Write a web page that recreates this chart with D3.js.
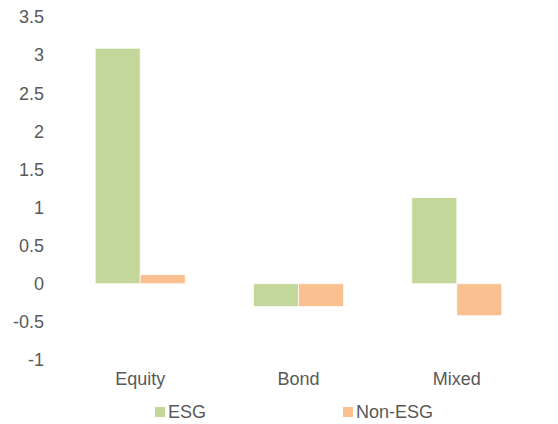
<!DOCTYPE html>
<html>
<head>
<meta charset="utf-8">
<script src="https://cdn.jsdelivr.net/npm/d3@7"></script>
<style>
  body { margin: 0; background: #fff; }
  text { font-family: "Liberation Sans", Arial, sans-serif; fill: #595959; }
</style>
</head>
<body>
<svg id="chart"></svg>
<script>
const categories = ['Equity', 'Bond', 'Mixed'];
const seriesNames = ['ESG', 'Non-ESG'];
const esgValues = [3.09, -0.30, 1.13];
const nonEsgValues = [0.12, -0.30, -0.42];
const yTicks = [-1, -0.5, 0, 0.5, 1, 1.5, 2, 2.5, 3, 3.5];

const width = 558, height = 424;
const colors = {ESG: '#C4D79B', 'Non-ESG': '#FAC090'};

const svg = d3.select('#chart').attr('width', width).attr('height', height);

const y = d3.scaleLinear().domain([-1, 3.5]).range([360, 17]);
const x = d3.scaleBand().domain(categories).range([61, 536]);
const inner = d3.scaleBand().domain(seriesNames).range([0, 90]);
const offset = (x.bandwidth() - 90) / 2;

const data = categories.map((c, i) => ({
    cat: c,
    vals: [{k: 'ESG', v: esgValues[i]}, {k: 'Non-ESG', v: nonEsgValues[i]}]
}));

// y axis labels only, no axis line or grid
svg.append('g').selectAll('text')
    .data(yTicks).enter().append('text')
    .attr('x', 44)
    .attr('y', d => y(d))
    .attr('dy', '0.35em')
    .attr('text-anchor', 'end')
    .style('font-size', '18px')
    .text(d => d);

const groups = svg.selectAll('g.cat')
    .data(data).enter().append('g')
    .attr('class', 'cat')
    .attr('transform', d => `translate(${x(d.cat) + offset},0)`);

groups.selectAll('rect')
    .data(d => d.vals).enter().append('rect')
    .attr('x', d => inner(d.k))
    .attr('width', inner.bandwidth())
    .attr('y', d => y(Math.max(0, d.v)))
    .attr('height', d => Math.abs(y(d.v) - y(0)))
    .attr('fill', d => colors[d.k])
    .attr('stroke', '#fff')
    .attr('stroke-width', 0.7);

// category labels
svg.append('g').selectAll('text')
    .data(categories).enter().append('text')
    .attr('x', d => x(d) + x.bandwidth() / 2)
    .attr('y', 385)
    .attr('text-anchor', 'middle')
    .style('font-size', '18px')
    .text(d => d);

// legend
const legendX = [155, 343];
const legend = svg.append('g').selectAll('g')
    .data(seriesNames).enter().append('g')
    .attr('transform', (d, i) => `translate(${legendX[i]},407)`);
legend.append('rect')
    .attr('width', 10).attr('height', 10)
    .attr('fill', d => colors[d]);
legend.append('text')
    .attr('x', 13).attr('y', 11)
    .style('font-size', '18px')
    .text(d => d);
</script>
</body>
</html>
